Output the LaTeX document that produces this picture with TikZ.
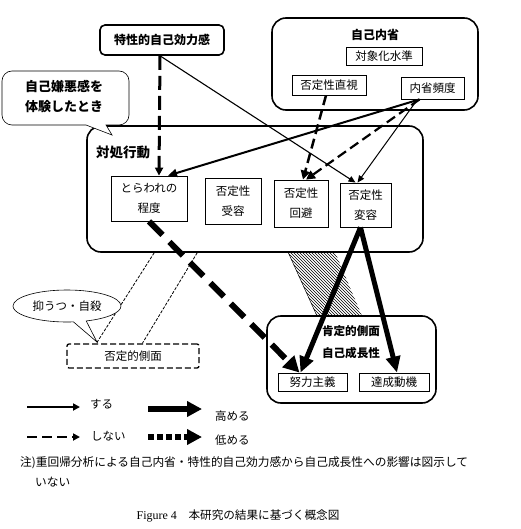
\documentclass[tikz,border=0pt]{standalone}
\usepackage{fontspec}
\setmainfont{Noto Sans CJK JP}
\newfontfamily\capfont{Liberation Serif}
\usetikzlibrary{arrows.meta,patterns,shapes.callouts,calc}
\begin{document}
\begin{tikzpicture}[x=1pt,y=-1pt,
  inbox/.style={draw, line width=0.8pt, fill=white, inner sep=0pt, align=center,
    font=\fontsize{11.5}{20}\selectfont},
  grp/.style={draw, line width=1.6pt, rounded corners=14pt, inner sep=0pt},
  ttl/.style={font=\fontsize{12}{14}\selectfont\bfseries, inner sep=0pt},
  txt/.style={font=\fontsize{11.5}{14}\selectfont, inner sep=0pt, anchor=west},
  thinarrow/.style={line width=1.1pt, -{Triangle[length=7pt,width=6pt]}},
  medarrow/.style={line width=2pt, -{Triangle[length=9pt,width=8pt]}},
  dasharrow/.style={line width=2.2pt, dash pattern=on 10pt off 5pt, -{Triangle[length=9pt,width=9pt]}},
  bigarrow/.style={line width=5pt, -{Triangle[length=16pt,width=14pt]}},
  bigdash/.style={line width=6pt, dash pattern=on 19pt off 10pt, -{Triangle[length=16pt,width=16pt]}},
  finedash/.style={line width=0.8pt, dash pattern=on 3pt off 1.5pt},
]
\useasboundingbox (0,0) rectangle (520,529);

% hatched band
\fill[pattern=north west lines] (288,252) -- (335,252) -- (362,316) -- (317,316) -- cycle;
\draw[line width=0.5pt] (288,252) -- (317,316);

% group boxes
\node[grp, minimum width=206pt, minimum height=92pt] (naisei) at (375,64) {};
\node[ttl] (naiseit) at (375,35) {自己内省};
\node[grp, minimum width=336pt, minimum height=126pt] (shoshi) at (255,189) {};
\node[ttl, font=\fontsize{13.5}{15}\selectfont\bfseries, anchor=west] (shoshit) at (96,152) {対処行動};
\node[grp, minimum width=169pt, minimum height=87pt] (kotei) at (351.5,359.5) {};
\node[ttl, align=center, font=\fontsize{11.6}{22}\selectfont\bfseries] (koteit) at (351,342) {肯定的側面\\自己成長性};

% top box
\node[draw, line width=1.6pt, rounded corners=5pt, minimum width=124pt, minimum height=30pt, inner sep=0pt,
  font=\fontsize{12}{14}\selectfont\bfseries] (tok) at (162,40) {特性的自己効力感};

% inner boxes of 自己内省
\node[inbox, minimum width=76pt, minimum height=18pt] (taisho) at (384,56) {対象化水準};
\node[inbox, minimum width=74pt, minimum height=20pt] (chokushi) at (329,85) {否定性直視};
\node[inbox, minimum width=63pt, minimum height=22pt] (hindo) at (432.5,88) {内省頻度};

% inner boxes of 対処行動
\node[inbox, minimum width=76pt, minimum height=45pt] (tor) at (149,198.5) {とらわれの\\程度};
\node[inbox, minimum width=56pt, minimum height=46pt] (juyo) at (233,201) {否定性\\受容};
\node[inbox, minimum width=54pt, minimum height=47pt] (kaihi) at (301,203.5) {否定性\\回避};
\node[inbox, minimum width=51pt, minimum height=44pt] (henyo) at (365.5,205) {否定性\\変容};

% inner boxes of 肯定的側面
\node[inbox, minimum width=69pt, minimum height=18pt] (doryoku) at (312.5,382) {努力主義};
\node[inbox, minimum width=70pt, minimum height=18pt] (tassei) at (394,382) {達成動機};

% negative side
\node[draw, line width=1.3pt, dash pattern=on 6pt off 3pt, rounded corners=2pt, minimum width=132pt,
  minimum height=24pt, inner sep=0pt, font=\fontsize{11.5}{14}\selectfont] (hitei) at (133,356) {否定的側面};

% fine dashed links
\draw[finedash] ([xshift=68pt]shoshi.south west) -- ([xshift=30pt]hitei.north west);
\draw[finedash] ([xshift=111pt]shoshi.south west) -- ([xshift=76pt]hitei.north west);

% callout ellipse
\node[ellipse callout, draw, line width=0.6pt, fill=white, minimum width=108pt, minimum height=32pt,
  inner sep=0pt, callout absolute pointer={(97,342)}, callout pointer arc=14,
  font=\fontsize{11.5}{14}\selectfont] (yokuutsu) at (67,306) {抑うつ・自殺};

% speech bubble
\draw[line width=0.6pt, fill=white] (2,98) [rounded corners=10pt] -- (2,71) -- (129,71) -- (129,125)
  [sharp corners] -- (106,125) -- (112,135) -- (86,125) [rounded corners=10pt] -- (2,125) -- (2,98);
\node[align=center, inner sep=0pt, font=\fontsize{13}{20}\selectfont\bfseries] (jiko) at (64,97) {自己嫌悪感を\\体験したとき};

% arrows
\draw[line width=3pt, dash pattern=on 14pt off 6pt, -{Triangle[length=8pt,width=8pt]}]
  ([xshift=-2pt]tok.south) -- ([xshift=10pt]tor.north);
\draw[thinarrow] ([xshift=-2pt]tok.south) -- ([xshift=-10pt]henyo.north);
\draw[medarrow] ([xshift=-13pt]hindo.south) -- ([xshift=19pt]tor.north);
\draw[dasharrow] ([xshift=-13pt]hindo.south) -- ([xshift=5pt]kaihi.north);
\draw[thinarrow, line width=1pt] ([xshift=-15pt]hindo.south) -- ([xshift=-8pt]henyo.north);
\draw[dasharrow, line width=2.5pt] ([xshift=-3pt]chokushi.south) -- ([xshift=2pt]kaihi.north);
\draw[bigdash] (tor.south) -- ([xshift=-13pt]doryoku.north);
\draw[bigarrow] ([xshift=-5pt]henyo.south) -- ([xshift=-12pt]doryoku.north);
\draw[bigarrow] ([xshift=-5pt]henyo.south) -- ([xshift=3pt]tassei.north);

% legend
\coordinate (l1a) at (27,407); \coordinate (l1b) at (80,407);
\coordinate (l2a) at (27,437); \coordinate (l2b) at (80,437);
\coordinate (l3a) at (148,409); \coordinate (l3b) at (202,409);
\coordinate (l4a) at (148,437); \coordinate (l4b) at (202,437);
\draw[line width=2pt, -{Triangle[length=7pt,width=7pt]}] (l1a) -- (l1b);
\draw[line width=2pt, dash pattern=on 10pt off 5pt, -{Triangle[length=7pt,width=7pt]}] (l2a) -- (l2b);
\draw[line width=6pt, -{Triangle[length=15pt,width=15pt]}] (l3a) -- (l3b);
\draw[line width=6pt, dash pattern=on 6pt off 3pt, -{Triangle[length=15pt,width=15pt]}] (l4a) -- (l4b);
\node[txt] (l1t) at (90,404) {する};
\node[txt] (l2t) at (91,436) {しない};
\node[txt] (l3t) at (215,416) {高める};
\node[txt] (l4t) at (215,440) {低める};

% note and caption
\node[txt, font=\fontsize{11.7}{14}\selectfont] (note1) at (20,463) {注)重回帰分析による自己内省・特性的自己効力感から自己成長性への影響は図示して};
\node[txt, font=\fontsize{11.7}{14}\selectfont] (note2) at (35,482) {いない};
\node[inner sep=0pt, font=\fontsize{11.6}{13}\selectfont] (cap) at (238,516) {{\capfont\fontsize{12}{13}\selectfont Figure 4}\quad 本研究の結果に基づく概念図};
\end{tikzpicture}
\end{document}
